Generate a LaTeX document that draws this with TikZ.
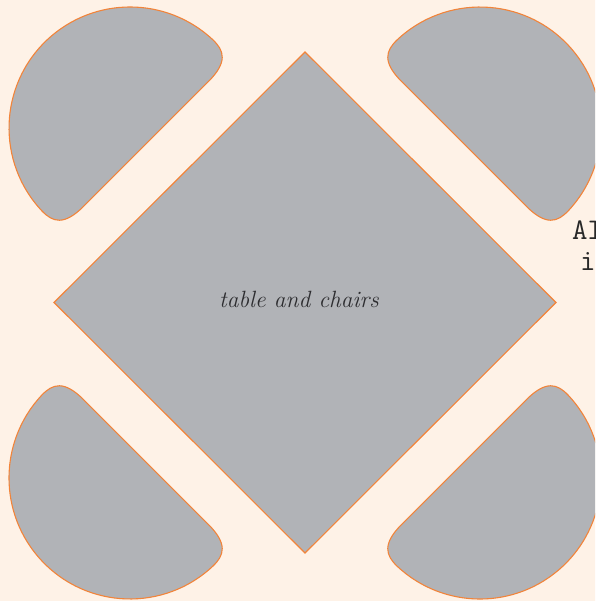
\documentclass[tikz,border=0pt]{standalone}
\usetikzlibrary{shapes.geometric}
\definecolor{bgpeach}{RGB}{254,242,231}
\definecolor{seatgray}{RGB}{177,179,183}
\definecolor{edgeorange}{RGB}{242,132,58}
\definecolor{labelgray}{RGB}{45,45,48}
\definecolor{sidetext}{RGB}{40,40,40}
\tikzset{
  seat/.style={fill=seatgray, draw=edgeorange, line width=1.1pt, line join=round},
  tablebox/.style={fill=seatgray, draw=edgeorange, line width=1.1pt, line join=miter},
  tablelabel/.style={font=\fontsize{23.5}{28}\selectfont\itshape, text=labelgray, inner sep=0pt},
  sidelabel/.style={font=\fontsize{30}{34}\selectfont\ttfamily, text=sidetext, inner sep=0pt}
}
\newcommand\chairshape{%
  (22.6,-88) -- (22.6,88)
  .. controls (22.6,116) and (12,121.4) .. (-4,120.9)
  arc[start angle=91.9, end angle=268.1, radius=121]
  .. controls (12,-121.4) and (22.6,-116) .. (22.6,-88) -- cycle}
\begin{document}
\begin{tikzpicture}[x=1pt,y=-1pt]
  \useasboundingbox (0,0) rectangle (595,601);
  \clip (0,0) rectangle (595,601);
  \fill[bgpeach] (-5,-5) rectangle (600,606);
  % chairs
  \path[seat, shift={(130,128)}, rotate=-45] \chairshape;
  \path[seat, shift={(480,128)}, rotate=-135] \chairshape;
  \path[seat, shift={(130,478)}, rotate=45] \chairshape;
  \path[seat, shift={(480,478)}, rotate=135] \chairshape;
  % table
  \coordinate (tabletop) at (305,52);
  \coordinate (tableright) at (556,302.5);
  \coordinate (tablebottom) at (305,553);
  \coordinate (tableleft) at (54,302.5);
  \path[tablebox] (tabletop) -- (tableright) -- (tablebottom) -- (tableleft) -- cycle;
  \node[tablelabel, anchor=base] (label) at (299,307) {table and chairs};
  % side text (cut off at the right edge, as in the reference)
  \node[sidelabel, anchor=base west] (side1) at (572,239.5) {Al};
  \node[sidelabel, anchor=base west] (side2) at (580,270) {i};
\end{tikzpicture}
\end{document}
